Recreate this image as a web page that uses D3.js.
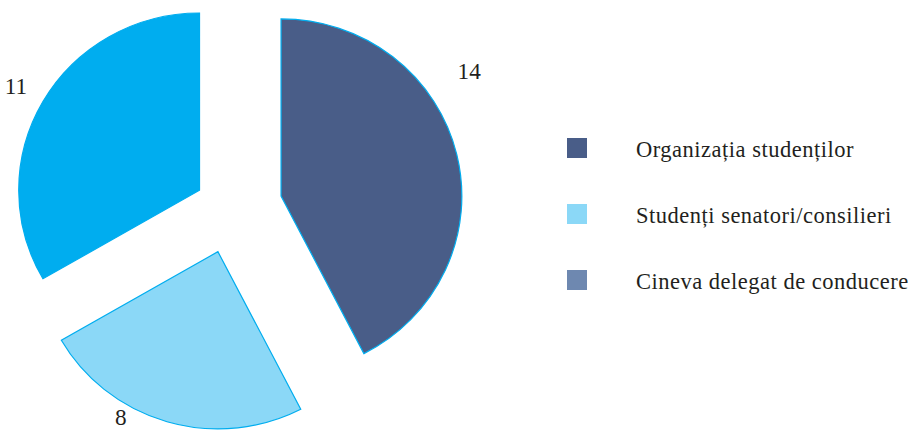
<!DOCTYPE html>
<html>
<head>
<meta charset="utf-8">
<script src="https://cdn.jsdelivr.net/npm/d3@7/dist/d3.min.js"></script>
<style>
  html, body { margin: 0; padding: 0; background: #ffffff; }
  svg { display: block; }
</style>
</head>
<body>
<svg id="chart" width="912" height="432"></svg>
<script>
// ---- data ----
const categories = ["Organizația studenților", "Studenți senatori/consilieri", "Cineva delegat de conducere"];
const values = [14, 8, 11];
const sliceColors = ["#495d88", "#8bd8f7", "#00adef"];
const legendColors = ["#495d88", "#8bd8f7", "#6e88b0"];

// ---- layout ----
const svg = d3.select("#chart");
const cx = 231, cy = 208, R = 179;
const explode = [51, 46, 36];          // per-slice pull-out distance
const labelFrac = [0.366, 0.655, 0.5]; // label angle position within slice
const labelGap = [46, 14, 31];         // label distance beyond the rim
const textColor = "#231f20";
const serif = "'Liberation Serif', 'Times New Roman', 'DejaVu Serif', serif";

const pie = d3.pie().sort(null).value(d => d).startAngle(0).endAngle(2 * Math.PI);
const arcs = pie(values);
const arc = d3.arc().innerRadius(0).outerRadius(R);

const g = svg.append("g").attr("transform", `translate(${cx},${cy}) scale(1.01,0.99)`);

arcs.forEach((a, i) => {
  const mid = (a.startAngle + a.endAngle) / 2;
  const ox = Math.sin(mid) * explode[i];
  const oy = -Math.cos(mid) * explode[i];
  const sg = g.append("g").attr("transform", `translate(${ox},${oy})`);
  sg.append("path")
    .attr("d", arc(a))
    .attr("fill", sliceColors[i])
    .attr("stroke", "#00adef")
    .attr("stroke-width", 1.2)
    .attr("stroke-linejoin", "miter");
  const la = a.startAngle + (a.endAngle - a.startAngle) * labelFrac[i];
  const lr = R + labelGap[i];
  sg.append("text")
    .attr("x", Math.sin(la) * lr)
    .attr("y", -Math.cos(la) * lr)
    .attr("text-anchor", "middle")
    .attr("dominant-baseline", "central")
    .attr("font-family", serif)
    .attr("font-size", 23)
    .attr("fill", textColor)
    .text(values[i]);
});

// ---- legend ----
const legendY = d3.scalePoint().domain(categories).range([148, 280]);
const lg = svg.append("g");
categories.forEach((c, i) => {
  const y = legendY(c);
  lg.append("rect")
    .attr("x", 567).attr("y", y - 10)
    .attr("width", 20).attr("height", 20)
    .attr("fill", legendColors[i]);
  lg.append("text")
    .attr("x", 636).attr("y", y + 9)
    .attr("font-family", serif)
    .attr("font-size", 22.5)
    .attr("letter-spacing", 0.5)
    .attr("fill", textColor)
    .text(c);
});
</script>
</body>
</html>
